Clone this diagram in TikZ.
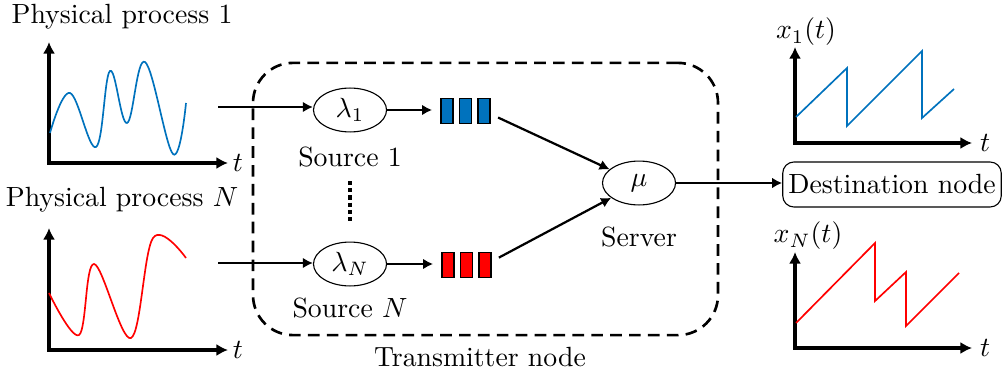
\documentclass[tikz,border=0pt]{standalone}
\usetikzlibrary{shapes,arrows,arrows.meta,positioning}
\definecolor{mblue}{rgb}{0,0.447,0.741}

\begin{document}
\begin{tikzpicture}[x=0.36pt, y=-0.36pt, >={Latex[length=3.6pt,width=3.8pt]},
	src/.style={draw, ellipse, minimum width=26.3pt, minimum height=15.8pt, inner sep=1pt},
	qbox/.style={draw, minimum width=4.3pt, minimum height=9pt, inner sep=0pt},
	axis/.style={line width=1.1pt, {Latex[length=4.2pt,width=4.4pt]}-{Latex[length=4.2pt,width=4.4pt]}}]
			\useasboundingbox (0,0) rectangle (1002,371);
			% physical processes
			\node (proc1) at (122,17) {Physical process 1};
			\node (procN) at (122,200) {Physical process $N$};
			\draw[axis] (49,42) -- (49,163) -- (228,163);
			\node (t1) at (238,163) {$t$};
			\draw[axis] (49,228) -- (49,350) -- (228,350);
			\node (t2) at (238,350) {$t$};
			\draw[mblue, semithick] plot[smooth, tension=0.65] coordinates {(50,133) (70,93) (96,147) (110,71) (127,123) (145,62) (173,154) (186,103)};
			\draw[red, semithick] plot[smooth, tension=0.6] coordinates {(49,293) (79,335) (94,264) (131,338) (153,238) (186,258)};
			
			% transmitter
			\node (tx) [draw, dashed, line width=0.95pt, dash pattern=on 4.2pt off 2.6pt, rounded corners=14.4pt, minimum width=167.4pt, minimum height=98pt] at (485.5,199) {};
			\node (txlabel) at (480,357) {Transmitter node};
			\node (src1) [src] at (350,110) {$\lambda_1$};
			\node (srcN) [src] at (350,264) {$\lambda_N$};
			\node (lab1) at (350,157) {Source 1};
			\node (labN) at (350,308) {Source $N$};
			\draw[line width=1.5pt, dash pattern=on 1.5pt off 1.1pt] (350,181) -- (350,221);
			\coordinate (in1) at (218,107);
			\coordinate (inN) at (218,263);
			\draw[thick,->] (in1) -- (src1.west |- in1);
			\draw[thick,->] (inN) -- (srcN.west |- inN);
			\foreach \i in {0,1,2} {
				\node (qa\i) [qbox, fill=mblue] at (447+18.5*\i,111) {};
				\node (qb\i) [qbox, fill=red] at (448+18.5*\i,265) {};
			}
			\draw[thick,->, shorten >=3pt] (src1) -- (src1 -| qa0.west);
			\draw[thick,->, shorten >=3pt] (srcN) -- (srcN -| qb0.west);
			\node (srv) [src] at (639,183) {$\mu$};
			\node (srvlabel) at (639,237) {Server};
			\draw[thick,->, shorten <=3pt] (qa2) -- (srv);
			\draw[thick,->, shorten <=3pt] (qb2) -- (srv);
			
			% destination
			\node (dest) [draw, rounded corners, inner xsep=2pt, minimum width=77.4pt, minimum height=16.2pt] at (892,184.5) {Destination node};
			\draw[thick,->] (srv) -- (srv -| dest.west);
			
			% ages
			\node (age1) at (806,32) {$x_1(t)$};
			\node (ageN) at (808,236) {$x_N(t)$};
			\draw[axis] (795,47) -- (795,143) -- (972,143);
			\node (t3) at (985,143) {$t$};
			\draw[axis] (795,252) -- (795,348) -- (972,348);
			\node (t4) at (985,348) {$t$};
			\draw[mblue, semithick] (796,117) -- (847,68) -- (847,126) -- (922,51) -- (922,118) -- (954,89);
			\draw[red, semithick] (796,323) -- (875,243) -- (875,301) -- (906,272) -- (906,326) -- (959,273);
		\end{tikzpicture}
\end{document}
